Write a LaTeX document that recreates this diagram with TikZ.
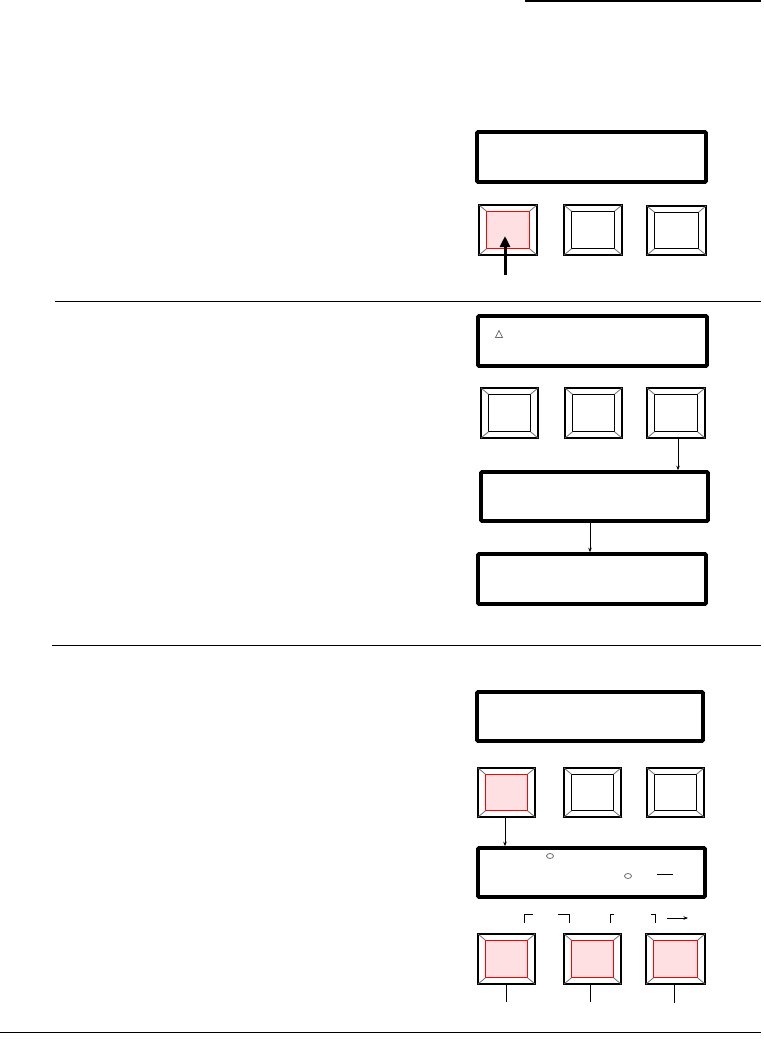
\documentclass[tikz,border=0pt]{standalone}
\usetikzlibrary{arrows.meta,calc}
\definecolor{pinkfill}{RGB}{255,224,226}
\definecolor{diaggray}{RGB}{110,110,110}
\tikzset{
  disp/.style={draw=black, line width=3.6pt, rounded corners=1pt, inner sep=0pt},
  btnout/.style={draw=black, line width=1.3pt, inner sep=0pt, outer sep=0pt},
  btnin/.style={draw=black, line width=1.3pt, inner sep=0pt, outer sep=0pt},
  btnred/.style={draw=red, fill=pinkfill, line width=1.3pt, inner sep=0pt, outer sep=0pt},
  diag/.style={draw=diaggray, line width=0.8pt},
  sep/.style={draw=black, line width=1pt},
  conn/.style={draw=black, line width=1pt, -{Stealth[length=4.5pt,width=3.5pt]}},
  plain/.style={draw=black, line width=1pt},
  bigarrow/.style={draw=black, line width=3pt, -{Triangle[length=11pt,width=10pt]}},
  glyph/.style={draw=diaggray, line width=0.8pt},
}
\newcommand\btn[6]{%
  \node[btnout, minimum width={#4-#2}, minimum height={#5-#3}] (#1) at ({(#2+#4)/2},{(#3+#5)/2}) {};
  \node[#6, minimum width={#4-#2-15}, minimum height={#5-#3-12.5}] (#1i) at (#1.center) {};
  \draw[diag] (#1.north west) -- (#1i.north west);
  \draw[diag] (#1.north east) -- (#1i.north east);
  \draw[diag] (#1.south west) -- (#1i.south west);
  \draw[diag] (#1.south east) -- (#1i.south east);
}
\newcommand\disp[5]{%
  \node[disp, minimum width={#4-#2}, minimum height={#5-#3}] (#1) at ({(#2+#4)/2},{(#3+#5)/2}) {};
}
\begin{document}
\begin{tikzpicture}[x=1pt,y=-1pt]
\useasboundingbox (0,0) rectangle (763,1062);
% separators
\draw[sep, line width=1.5pt] (525,1) -- (761,1);
\draw[sep] (55,301) -- (761,301);
\draw[sep] (52,645) -- (761,645);
\draw[sep] (0,1032) -- (761,1032);

% ---------- panel 1
\disp{d1}{477}{132}{706}{182}
\btn{b1}{479}{205}{537}{255}{btnred}
\btn{b2}{564}{205}{622}{255}{btnin}
\btn{b3}{647}{206}{706}{255}{btnin}
\coordinate (a1) at (505,275);
\coordinate (a1t) at (505,236);
\draw[bigarrow] (a1) -- (a1t);

% ---------- panel 2
\disp{d2a}{478}{316}{707}{366}
\draw[glyph] (495.5,337.5) -- (502.5,337.5) -- (499,330.5) -- cycle;
\btn{b4}{481}{388}{538}{438}{btnin}
\btn{b5}{565}{388}{622}{438}{btnin}
\btn{b6}{647}{388}{705}{438}{btnin}
\disp{d2}{481}{472}{708}{521}
\disp{d3}{478}{554}{706}{604}
\coordinate (c6) at (678,438);
\draw[conn] (c6) -- (c6 |- d2.north);
\coordinate (c7) at (590,521);
\draw[conn] (c7) -- (c7 |- d3.north);

% ---------- panel 3
\disp{d4a}{477}{692}{703}{741}
\btn{b7}{478}{768}{535}{817}{btnred}
\btn{b8}{564}{768}{621}{817}{btnin}
\btn{b9}{647}{768}{704}{817}{btnin}
\disp{d4}{478}{848}{705}{897}
\coordinate (c8) at (505,817);
\draw[conn] (c8) -- (c8 |- d4.north);
\draw[glyph] (550,856) ellipse (3.5 and 2.5);
\draw[glyph] (628,876) ellipse (3.5 and 2.5);
\draw[plain] (657,874) -- (673,874);
% brackets
\draw[plain] (524,923) -- (524,914) -- (533,914);
\draw[plain] (558,914) -- (569,914) -- (569,923);
\draw[plain] (610,923) -- (610,914) -- (614,914);
\draw[plain] (651,914) -- (655,914) -- (655,923);
\coordinate (r1) at (667,918);
\coordinate (r2) at (688,918);
\draw[conn] (r1) -- (r2);
\btn{b10}{478}{934}{535}{984}{btnred}
\btn{b11}{564}{934}{621}{984}{btnred}
\btn{b12}{646}{934}{705}{984}{btnred}
\coordinate (e10) at (506,1002);
\coordinate (e11) at (590,1002);
\coordinate (e12) at (674,1003);
\draw[plain] (e10 |- b10.south) -- (e10);
\draw[plain] (e11 |- b11.south) -- (e11);
\draw[plain] (e12 |- b12.south) -- (e12);
\end{tikzpicture}
\end{document}
